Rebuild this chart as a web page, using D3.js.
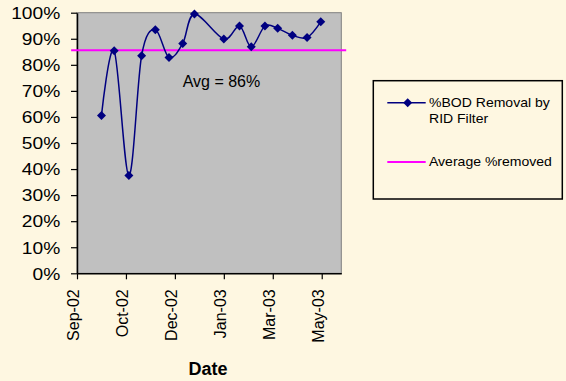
<!DOCTYPE html>
<html>
<head>
<meta charset="utf-8">
<script src="https://cdn.jsdelivr.net/npm/d3@7"></script>
<style>
  body { margin: 0; background: #fef7e1; }
  text { font-family: Arial, "Liberation Sans", sans-serif; fill: #000; }
</style>
</head>
<body>
<svg id="chart" width="566" height="381"></svg>
<script>
// sample dates and % BOD removal
const sampleDates = [
  "2002-09-26", "2002-10-09", "2002-10-24", "2002-11-06", "2002-11-20",
  "2002-12-04", "2002-12-18", "2002-12-30", "2003-01-29", "2003-02-14",
  "2003-02-26", "2003-03-12", "2003-03-25", "2003-04-09", "2003-04-24",
  "2003-05-08"
];
const bodRemoval = [
  0.606, 0.854, 0.375, 0.835, 0.935,
  0.828, 0.882, 0.995, 0.899, 0.949,
  0.869, 0.949, 0.940, 0.913, 0.905,
  0.965
];

const averageRemoved = 0.856;
const averageDates = ["2002-08-26", "2003-06-03"];

const xDomain = ["2002-09-01", "2003-05-29"];
const xTickDates = ["2002-09-01", "2002-10-21", "2002-12-10", "2003-01-29", "2003-03-20", "2003-05-09"];
const yTicks = [0, 0.1, 0.2, 0.3, 0.4, 0.5, 0.6, 0.7, 0.8, 0.9, 1];

const legendLabels = [["%BOD Removal by", "RID Filter"], ["Average %removed"]];
const avgLabel = "Avg = 86%";

const parse = d3.utcParse("%Y-%m-%d");

const plot = { left: 77, top: 12.7, right: 341.3, bottom: 273.3 };
const navy = "#000080", magenta = "#ff00ff";

const svg = d3.select("#chart");

const x = d3.scaleUtc()
    .domain(xDomain.map(parse))
    .range([plot.left, plot.right]);

const y = d3.scaleLinear()
    .domain([0, 1])
    .range([plot.bottom, plot.top]);

// plot area
svg.append("rect")
    .attr("x", plot.left)
    .attr("y", plot.top)
    .attr("width", plot.right - plot.left)
    .attr("height", plot.bottom - plot.top)
    .attr("fill", "#c0c0c0")
    .attr("stroke", "#808080")
    .attr("stroke-width", 1);

// y axis
const yAxis = svg.append("g")
    .attr("transform", `translate(${plot.left},0)`)
    .call(d3.axisLeft(y).tickValues(yTicks).tickFormat(d3.format(".0%")).tickSize(6).tickSizeOuter(0));

yAxis.select(".domain").attr("stroke", "#000").attr("stroke-width", 1.5);
yAxis.selectAll(".tick line").attr("stroke", "#000").attr("stroke-width", 1.2);
yAxis.selectAll(".tick text")
    .attr("x", -14)
    .attr("dy", "0.36em")
    .attr("transform", "scale(1.2,1)")
    .style("font-size", "16px")
    .style("font-family", "Arial, 'Liberation Sans', sans-serif");

// x axis
const xAxis = svg.append("g")
    .attr("transform", `translate(0,${plot.bottom})`)
    .call(d3.axisBottom(x).tickValues(xTickDates.map(parse)).tickFormat(d3.utcFormat("%b-%y")).tickSize(6).tickSizeOuter(0));

xAxis.select(".domain").attr("stroke", "#000").attr("stroke-width", 1.5);
xAxis.selectAll(".tick line").attr("stroke", "#000").attr("stroke-width", 1.2);
xAxis.selectAll(".tick text")
    .attr("transform", "rotate(-90)")
    .attr("text-anchor", "end")
    .attr("x", -16)
    .attr("y", 0)
    .attr("dy", "0.12em")
    .style("font-size", "16px")
    .style("font-family", "Arial, 'Liberation Sans', sans-serif");

svg.append("text")
    .attr("x", 208)
    .attr("y", 375)
    .attr("text-anchor", "middle")
    .style("font-size", "18px")
    .style("font-weight", "700")
    .text("Date");

// average line
svg.append("path")
    .datum(averageDates)
    .attr("fill", "none")
    .attr("stroke", magenta)
    .attr("stroke-width", 2)
    .attr("d", d3.line().x((d) => x(parse(d))).y(() => y(averageRemoved)));

// data series
const points = sampleDates.map((d, i) => ({ date: parse(d), value: bodRemoval[i] }));

svg.append("path")
    .datum(points)
    .attr("fill", "none")
    .attr("stroke", navy)
    .attr("stroke-width", 1.5)
    .attr("d", d3.line()
        .x((d) => x(d.date))
        .y((d) => y(d.value))
        .curve(d3.curveCardinal.tension(0)));

const diamond = "M0,-4.5L4.5,0L0,4.5L-4.5,0Z";

svg.selectAll("path.marker")
    .data(points)
    .enter()
    .append("path")
      .attr("class", "marker")
      .attr("d", diamond)
      .attr("fill", navy)
      .attr("transform", (d) => `translate(${x(d.date)},${y(d.value)})`);

svg.append("text")
    .attr("x", 182.7)
    .attr("y", 87)
    .style("font-size", "16px")
    .text(avgLabel);

// legend
const legend = svg.append("g").attr("transform", "translate(373.3,80.7)");

legend.append("rect")
    .attr("width", 189)
    .attr("height", 118.3)
    .attr("fill", "none")
    .attr("stroke", "#000")
    .attr("stroke-width", 1.5);

const legendRows = [22, 81.3];
const legendColors = [navy, magenta];

legendLabels.forEach((lines, i) => {
  const row = legend.append("g").attr("transform", `translate(0,${legendRows[i]})`);
  row.append("line")
      .attr("x1", 14).attr("x2", 52.4)
      .attr("stroke", legendColors[i])
      .attr("stroke-width", i === 0 ? 1.5 : 2);
  if (i === 0) {
    row.append("path").attr("d", diamond).attr("fill", navy).attr("transform", "translate(34.4,0)");
  }
  lines.forEach((t, j) => {
    row.append("text")
        .attr("transform", `translate(55.7,${4 + j * 16.6}) scale(1.08,1)`)
        .style("font-size", "13px")
        .text(t);
  });
});
</script>
</body>
</html>
